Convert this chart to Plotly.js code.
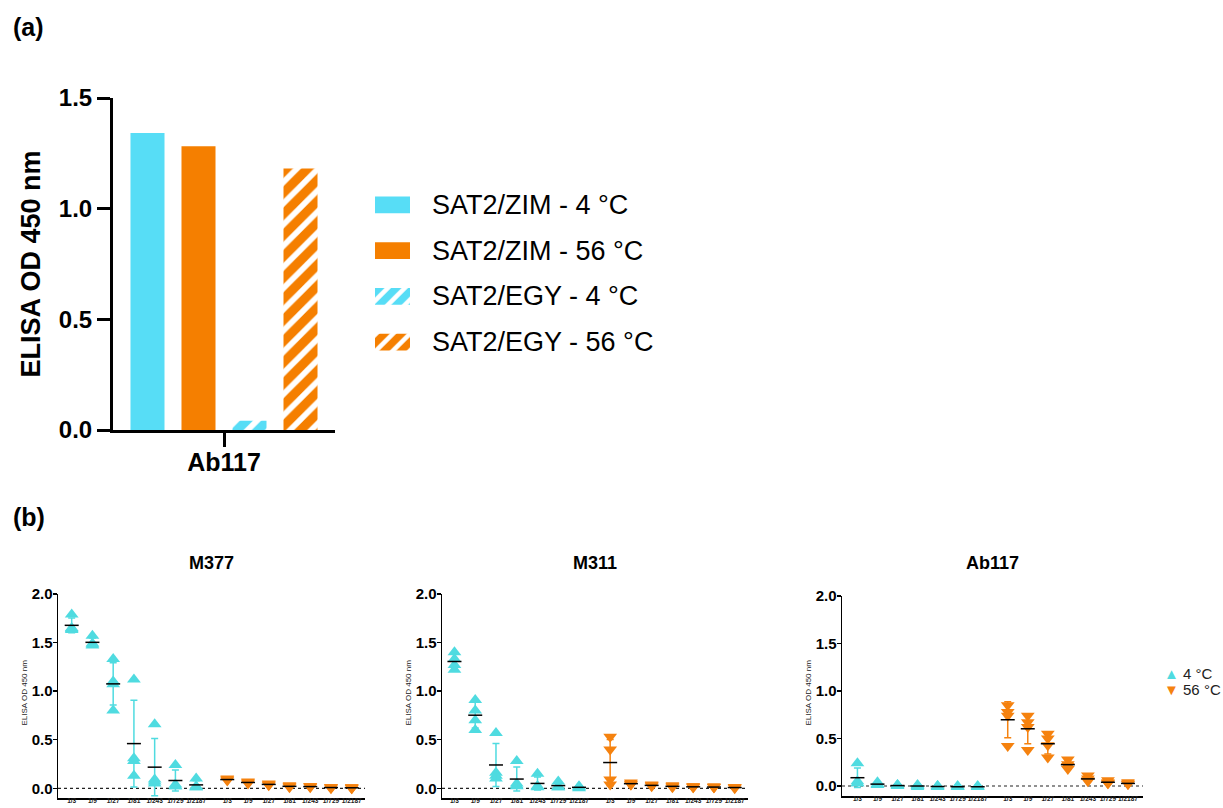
<!DOCTYPE html>
<html>
<head>
<meta charset="utf-8">
<script src="https://cdn.plot.ly/plotly-3.0.1.min.js"></script>
<style>html,body{margin:0;padding:0;background:#fff;}#chart{width:1223px;height:808px;}</style>
</head>
<body>
<div id="chart"></div>
<script>
// ---------- Data: panel (a) ----------
const barCategory = ['Ab117'];
const barSeries = ['SAT2/ZIM - 4 °C', 'SAT2/ZIM - 56 °C', 'SAT2/EGY - 4 °C', 'SAT2/EGY - 56 °C'];
const barValues = [1.342, 1.282, 0.042, 1.182];

// ---------- Data: panel (b) ----------
const dilutions = ['1/3', '1/9', '1/27', '1/81', '1/243', '1/729', '1/2187'];
const panelTitles = ['M377', 'M311', 'Ab117'];
const tempLabels = ['4 °C', '56 °C'];
const yTitle = 'ELISA OD 450 nm';

const M377_4C = [[1.79,1.64,1.63,1.65],[1.57,1.49,1.47,1.48],[1.33,1.10,1.07,0.80],[1.12,0.31,0.28,0.13],[0.66,0.09,0.07,0.05],[0.24,0.04,0.02,0.02],[0.10,0.02,0.01,0.01]];
const M377_56C = [[0.10,0.09,0.08,0.09],[0.07,0.06,0.05,0.06],[0.05,0.04,0.03,0.04],[0.03,0.02,0.02,0.01],[0.02,0.02,0.01,0.02],[0.01,0.01,0.01,0.00],[0.01,0.00,0.01,0.00]];
const M311_4C = [[1.40,1.33,1.27,1.22],[0.91,0.80,0.70,0.60],[0.57,0.16,0.13,0.10],[0.28,0.05,0.03,0.02],[0.15,0.02,0.02,0.01],[0.07,0.02,0.01,0.01],[0.02,0.01,0.00,0.01]];
const M311_56C = [[0.53,0.40,0.09,0.04],[0.06,0.05,0.04,0.04],[0.04,0.03,0.03,0.02],[0.03,0.02,0.02,0.01],[0.02,0.02,0.01,0.01],[0.02,0.01,0.01,0.01],[0.01,0.01,0.01,0.00]];
const Ab117_4C = [[0.24,0.05,0.03,0.03],[0.04,0.02,0.01,0.01],[0.01,0.01,0.00,0.00],[0.01,0.00,0.00,-0.01],[0.00,0.00,-0.01,-0.01],[0.00,-0.01,-0.01,-0.01],[0.00,-0.01,-0.01,-0.01]];
const Ab117_56C = [[0.85,0.78,0.74,0.42],[0.74,0.67,0.62,0.38],[0.55,0.50,0.43,0.30],[0.28,0.23,0.21,0.18],[0.11,0.08,0.06,0.05],[0.06,0.04,0.03,0.03],[0.04,0.03,0.02,0.02]];

// ---------- Style ----------
const FONT = 'Liberation Sans, Arial, sans-serif';
const W = 1223, H = 808;
const px = v => v / W;
const py = v => 1 - v / H;
const CYAN_BAR = '#57ddf6';
const ORANGE_BAR = '#f57f00';
const CYAN = '#4fdbe0';
const ORANGE = '#f5820f';

const traces = [];
const annotations = [];
const shapes = [];

// ---------- Panel (a) bars ----------
const barColors = [CYAN_BAR, ORANGE_BAR, CYAN_BAR, ORANGE_BAR];
const barShapes = ['', '', '/', '/'];
barSeries.forEach((name, i) => {
  traces.push({
    type: 'bar', name: name, x: barCategory, y: [barValues[i]],
    xaxis: 'x', yaxis: 'y', showlegend: false, hoverinfo: 'skip',
    marker: {
      color: barColors[i], line: {width: 0},
      pattern: {shape: barShapes[i], fgcolor: '#ffffff', fgopacity: 1, fillmode: 'overlay', size: 15, solidity: 0.38}
    }
  });
});

// legend swatches for panel (a) (own hidden axes)
barSeries.forEach((name, i) => {
  traces.push({
    type: 'bar', orientation: 'h', xaxis: 'x2', yaxis: 'y2', showlegend: false, hoverinfo: 'skip',
    offsetgroup: 'legendA', y: [i], x: [1], width: 0.37,
    marker: {
      color: barColors[i], line: {width: 0},
      pattern: {shape: barShapes[i], fgcolor: '#ffffff', fgopacity: 1, fillmode: 'overlay', size: 12, solidity: 0.38}
    }
  });
  annotations.push({xref: 'paper', yref: 'y2', x: px(430), y: i, xanchor: 'left', yanchor: 'middle',
    text: name, showarrow: false, font: {family: FONT, size: 27, color: '#000'}});
});

// ---------- Panel (b) ----------
const panels = [
  {title: panelTitles[0], d4: M377_4C, d56: M377_56C, xa: 'x3', ya: 'y3', left: 58, top: 594, bottom: 798},
  {title: panelTitles[1], d4: M311_4C, d56: M311_56C, xa: 'x4', ya: 'y4', left: 442, top: 594, bottom: 798},
  {title: panelTitles[2], d4: Ab117_4C, d56: Ab117_56C, xa: 'x5', ya: 'y5', left: 842, top: 596, bottom: 796}
];
const pos4 = dilutions.map((d, i) => i);
const pos56 = dilutions.map((d, i) => i + 7.5);

function mean(a) { return a.reduce((s, v) => s + v, 0) / a.length; }
function sd(a) { const m = mean(a); return Math.sqrt(a.reduce((s, v) => s + (v - m) * (v - m), 0) / (a.length - 1)); }

function addGroup(p, data, pos, color, symbol, name) {
  const xs = [], ys = [];
  data.forEach((vals, i) => vals.forEach(v => { xs.push(pos[i]); ys.push(v); }));
  traces.push({type: 'scatter', mode: 'markers', name: name, x: xs, y: ys, xaxis: p.xa, yaxis: p.ya,
    showlegend: false, marker: {symbol: symbol, size: 12, color: color, line: {width: 0}}});
  traces.push({type: 'scatter', mode: 'markers', name: name + ' mean', x: pos, y: data.map(mean),
    xaxis: p.xa, yaxis: p.ya, showlegend: false,
    error_y: {type: 'data', array: data.map(sd), visible: true, color: color, thickness: 1.5, width: 3.5},
    marker: {symbol: 'line-ew', size: 10, color: '#000', line: {width: 1.5, color: '#000'}}});
}

panels.forEach(p => {
  addGroup(p, p.d4, pos4, CYAN, 'triangle-up', tempLabels[0]);
  addGroup(p, p.d56, pos56, ORANGE, 'triangle-down', tempLabels[1]);
  shapes.push({type: 'line', xref: p.xa + ' domain', yref: p.ya, x0: 0, x1: 1, y0: 0, y1: 0,
    line: {color: '#222', width: 1.2, dash: 'dot'}, layer: 'below'});
  annotations.push({xref: p.xa + ' domain', yref: 'paper', x: 0.5, y: py(563), xanchor: 'center', yanchor: 'middle',
    text: p.title, showarrow: false, font: {family: FONT, size: 18, weight: 'bold', color: '#000'}});
  annotations.push({xref: 'paper', yref: 'paper', x: px(p.left - 34.5), y: py((p.top + p.bottom) / 2 - 3),
    xanchor: 'center', yanchor: 'middle', textangle: -90, showarrow: false,
    text: yTitle, font: {family: FONT, size: 8, color: '#222'}});
});

// legend for panel (b)
annotations.push({xref: 'paper', yref: 'paper', x: px(1162), y: py(673), xanchor: 'left', yanchor: 'middle', showarrow: false,
  text: '<span style="color:' + CYAN + '">▲</span> ' + tempLabels[0], font: {family: FONT, size: 15, color: '#222'}});
annotations.push({xref: 'paper', yref: 'paper', x: px(1162), y: py(689), xanchor: 'left', yanchor: 'middle', showarrow: false,
  text: '<span style="color:' + ORANGE + '">▼</span> ' + tempLabels[1], font: {family: FONT, size: 15, color: '#222'}});

// panel letters
annotations.push({xref: 'paper', yref: 'paper', x: px(11), y: py(27), xanchor: 'left', yanchor: 'middle', showarrow: false,
  text: '(a)', font: {family: FONT, size: 25, weight: 'bold', color: '#000'}});
annotations.push({xref: 'paper', yref: 'paper', x: px(11), y: py(517), xanchor: 'left', yanchor: 'middle', showarrow: false,
  text: '(b)', font: {family: FONT, size: 25, weight: 'bold', color: '#000'}});

// ---------- Axes ----------
function bx(domain, range, anchor) {
  return {domain: domain, range: range, anchor: anchor, showgrid: false, zeroline: false,
    showline: true, linecolor: '#000', linewidth: 1.5, ticks: '', tickangle: 0, ticklabelstandoff: -4,
    tickvals: pos4.concat(pos56), ticktext: dilutions.concat(dilutions),
    tickfont: {family: FONT, size: 6.5, weight: 'bold', color: '#222'}};
}
function by(domain, range, anchor) {
  return {domain: domain, range: range, anchor: anchor, showgrid: false, zeroline: false,
    showline: true, linecolor: '#000', linewidth: 1.5, ticks: 'outside', ticklen: 4, tickwidth: 1.5, tickcolor: '#000',
    ticklabelstandoff: -3,
    tickvals: [0, 0.5, 1, 1.5, 2], tickformat: '.1f',
    tickfont: {family: FONT, size: 15, weight: 'bold', color: '#000'}};
}

const layout = {
  width: W, height: H, margin: {l: 0, r: 0, t: 0, b: 0}, paper_bgcolor: '#fff', plot_bgcolor: 'rgba(0,0,0,0)',
  font: {family: FONT, color: '#000'}, showlegend: false, barmode: 'group', bargap: 0.081, bargroupgap: 0.333,
  xaxis: {domain: [px(113), px(335)], type: 'category', range: [-0.5, 0.5], anchor: 'y', showgrid: false, zeroline: false,
    showline: true, linecolor: '#000', linewidth: 3, ticks: 'outside', ticklen: 14, tickwidth: 3, tickcolor: '#000',
    ticklabelstandoff: -6,
    tickfont: {family: FONT, size: 25, weight: 'bold', color: '#000'}},
  yaxis: {domain: [py(430), py(98)], range: [0, 1.5], anchor: 'x', showgrid: false, zeroline: false,
    showline: true, linecolor: '#000', linewidth: 3, ticks: 'outside', ticklen: 13, tickwidth: 3, tickcolor: '#000',
    tickvals: [0, 0.5, 1, 1.5], tickformat: '.1f',
    tickfont: {family: FONT, size: 24, weight: 'bold', color: '#000'},
    title: {text: yTitle, font: {family: FONT, size: 27, weight: 'bold', color: '#000'}, standoff: 11}},
  xaxis2: {domain: [px(375), px(410)], range: [0, 1], anchor: 'y2', visible: false, fixedrange: true},
  yaxis2: {domain: [py(365), py(182)], range: [3.5, -0.5], anchor: 'x2', visible: false, fixedrange: true},
  xaxis3: bx([px(58), px(365)], [-0.66, 14.14], 'y3'),
  yaxis3: by([py(798), py(594)], [-0.1, 2], 'x3'),
  xaxis4: bx([px(442), px(748)], [-0.6, 14.14], 'y4'),
  yaxis4: by([py(798), py(594)], [-0.1, 2], 'x4'),
  xaxis5: bx([px(842), px(1143)], [-0.77, 14.25], 'y5'),
  yaxis5: by([py(796), py(596)], [-0.105, 2], 'x5'),
  annotations: annotations, shapes: shapes
};

Plotly.newPlot('chart', traces, layout, {displayModeBar: false, staticPlot: true});
</script>
</body>
</html>
